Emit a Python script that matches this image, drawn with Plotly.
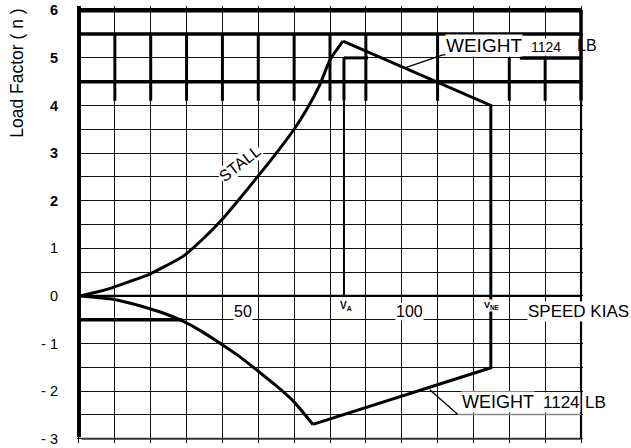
import plotly.graph_objects as go

# ---- data ----
speed_upper_stall = [0, 4.5, 9.7, 15.0, 21.2, 26.0, 31.2, 37.0, 43.0, 48.5, 53.9, 59.5, 64.8, 69.0, 72.7, 75.8, 79.7]
n_upper_stall = [0, 0.07, 0.17, 0.30, 0.46, 0.63, 0.83, 1.18, 1.60, 2.05, 2.51, 3.00, 3.49, 3.95, 4.44, 4.96, 5.35]
speed_lower_stall = [0, 4.5, 9.1, 15.0, 21.2, 26.0, 30.9, 37.0, 43.0, 48.5, 53.6, 59.0, 64.5, 70.6]
n_lower_stall = [0, -0.03, -0.06, -0.15, -0.27, -0.38, -0.52, -0.75, -1.02, -1.28, -1.56, -1.86, -2.20, -2.70]
speed_limits = [79.7, 124.5, 124.5, 70.6]
n_limits = [5.35, 4.0, -1.51, -2.70]
V_A = 80.0
V_NE = 124.5
y_ticks = [-3, -2.5, -2, -1.5, -1, -0.5, 0, 0.5, 1, 1.5, 2, 2.5, 3, 3.5, 4, 4.5, 5, 5.5, 6]
y_ticktext = ["- 3", " ", "- 2", " ", "- 1", " ", "0", " ", "1", " ", "<b>2</b>", " ", "<b>3</b>", " ",
              "<b>4</b>", " ", "<b>5</b>", " ", "<b>6</b>"]
x_labels = [("50", 49.4), ("100", 100.0)]

# grid frame (speed units / load-factor units)
X0, DX, NX = -0.3, 10.867, 14
X1 = X0 + DX * NX
Y0, Y1 = -3, 6
PX_PER_KT, PX_PER_N = 3.3, 47.6
PADX, PADY = 0.6, 0.09
FRAME_LEFT_PX, FRAME_TOP_PX = 79, 10.5
L_MARGIN = FRAME_LEFT_PX - PADX * PX_PER_KT
T_MARGIN = FRAME_TOP_PX - PADY * PX_PER_N
PLOT_W = (X1 - X0 + 2 * PADX) * PX_PER_KT
PLOT_H = (Y1 - Y0 + 2 * PADY) * PX_PER_N
W, H = 631, 448

fig = go.Figure()
line_style = dict(color="black", width=3)
fig.add_trace(go.Scatter(x=speed_upper_stall, y=n_upper_stall, mode="lines",
                         line=dict(shape="spline", smoothing=0.6, **line_style)))
fig.add_trace(go.Scatter(x=speed_lower_stall, y=n_lower_stall, mode="lines",
                         line=dict(shape="spline", smoothing=0.6, **line_style)))
fig.add_trace(go.Scatter(x=speed_limits, y=n_limits, mode="lines", line=line_style))

shapes = []
def seg(xa, ya, xb, yb, w, color="black"):
    shapes.append(dict(type="line", x0=xa, y0=ya, x1=xb, y1=yb, xref="x", yref="y",
                       line=dict(color=color, width=w), layer="above"))

def band(xa, xb, yc, px_thick, color="black"):
    h = px_thick / 2 / PX_PER_N
    shapes.append(dict(type="rect", xref="x", yref="y", x0=xa, x1=xb, y0=yc - h, y1=yc + h,
                       fillcolor=color, line=dict(width=0), layer="above"))

# heavy top frame and thin bottom frame as filled bands
band(X0, X1, Y1, 4.6)
band(X0 + 0.8, X1, Y0, 2.0, color="#333")
seg(X0, -2.97, X0, Y1 + 0.09, 4)
seg(X1, 4.1, X1, Y1, 3.5)
seg(X1, Y0, X1, 4.1, 2.2)
seg(X0, 5.5, X1, 5.5, 3.5)
seg(X0, 4.5, X1, 4.5, 3.5)
seg(X0, 0, X1, 0, 2.2)
seg(X0, -0.5, 31.0, -0.5, 3.5)
# heavy verticals in the upper band
for k in [1, 2, 3, 4, 5, 6, 7, 8, 10]:
    xv = X0 + DX * k
    seg(xv, 4.1, xv, 5.5, 3)
for k in [12, 13]:
    xv = X0 + DX * k
    seg(xv, 4.1, xv, 5.0, 3)
# V_A line
seg(V_A, 0, V_A, 4.1, 2)
seg(V_A, 4.1, V_A, 5.0, 3)
seg(V_A, 5.0, 87.3, 5.0, 3)
# weight underline / leaders
seg(133.3, 5.0, X1, 5.0, 3.5)
seg(98.5, 4.79, 109.7, 5.06, 1.3)
seg(109.7, 5.06, 112.0, 5.08, 1.3)
seg(106.0, -1.97, 114.5, -2.49, 1.3)
seg(114.5, -2.49, X1, -2.49, 1.5, color="#888")

FONT = "Liberation Sans, Arial"
ann = []
def text(t, x, y, size, angle=0, bg="white", xanchor="center", yanchor="middle", xref="x"):
    ann.append(dict(text=t, x=x, y=y, xref=xref, yref="y", showarrow=False,
                    font=dict(family=FONT, size=size, color="black"),
                    textangle=angle, bgcolor=bg, borderpad=0, xanchor=xanchor, yanchor=yanchor))

def px_to_paper(px):
    return (px - L_MARGIN) / PLOT_W

for t, xv in x_labels:
    text(t, xv, -0.33, 16)
text("<b>V<sub>A</sub></b>", 80.6, -0.21, 10)
text("<b>V<sub>NE</sub></b>", 124.8, -0.21, 9)
text("SPEED KIAS", px_to_paper(579), -0.33, 17, xref="paper")
text("STALL", 48.5, 2.78, 16, angle=-38)
text("WEIGHT", 122.4, 5.25, 19)
text("1124", 141.2, 5.23, 14)
text("LB", px_to_paper(587), 5.25, 16, bg="rgba(0,0,0,0)", xref="paper")
text("WEIGHT", 126.7, -2.465, 18, yanchor="bottom")
text("1124", 145.8, -2.465, 17, yanchor="bottom")
text("LB", px_to_paper(596), -2.465, 17, bg="rgba(0,0,0,0)", yanchor="bottom", xref="paper")
ann.append(dict(text="Load Factor ( n )", xref="paper", yref="paper", x=px_to_paper(17),
                y=1 - (73 - T_MARGIN) / PLOT_H,
                showarrow=False, textangle=-90, xanchor="center", yanchor="middle",
                font=dict(family=FONT, size=17.5, color="black")))

fig.update_layout(
    width=W, height=H,
    margin=dict(l=L_MARGIN, r=W - L_MARGIN - PLOT_W, t=T_MARGIN, b=H - T_MARGIN - PLOT_H, pad=0),
    paper_bgcolor="white", plot_bgcolor="white",
    showlegend=False,
    shapes=shapes, annotations=ann,
    xaxis=dict(range=[X0 - PADX, X1 + PADX], tickmode="linear", tick0=X0, dtick=DX,
               showticklabels=False, ticks="", showgrid=True, gridcolor="#111", gridwidth=1.2,
               zeroline=False, showline=False, automargin=False, fixedrange=True),
    yaxis=dict(range=[Y0 - PADY, Y1 + PADY], tickmode="array", tickvals=y_ticks, ticktext=y_ticktext,
               ticks="", ticklabelstandoff=18, ticklabeloverflow="allow",
               showgrid=True, gridcolor="#111", gridwidth=1.2,
               zeroline=False, showline=False, automargin=False, fixedrange=True,
               tickfont=dict(family=FONT, size=14.5, color="black")),
)

fig.write_html("out.html", config={"displayModeBar": False},
               post_script="document.body.style.margin='0';document.body.style.overflow='hidden';")
